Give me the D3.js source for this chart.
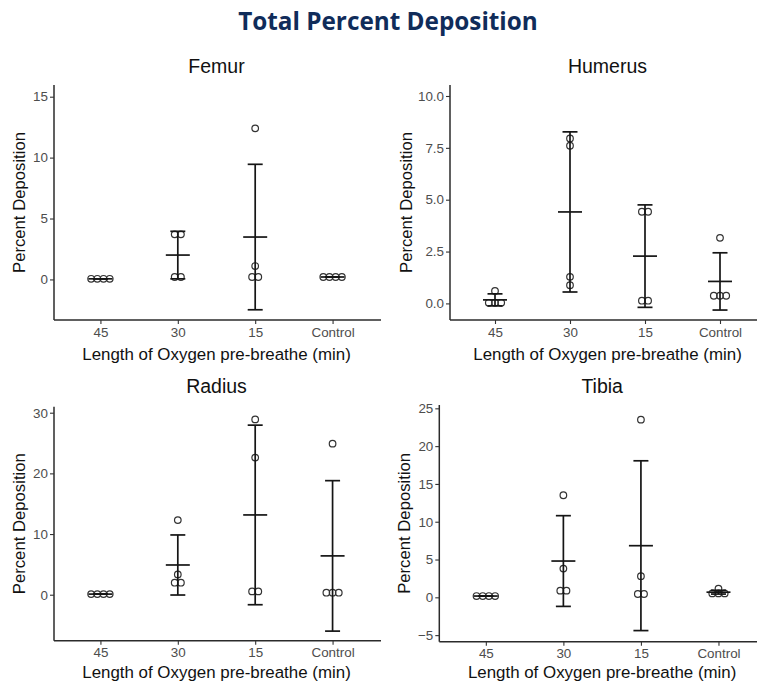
<!DOCTYPE html>
<html>
<head>
<meta charset="utf-8">
<script src="https://cdn.jsdelivr.net/npm/d3@7/dist/d3.min.js"></script>
<style>
  html, body { margin: 0; padding: 0; background: #fff; }
  svg { display: block; }
</style>
</head>
<body>
<svg id="chart" width="757" height="686"></svg>
<script>
// ---------------- DATA ----------------
const chartTitle = "Total Percent Deposition";
const categories = ["45", "30", "15", "Control"];
const panelNames = ["Femur", "Humerus", "Radius", "Tibia"];
const xAxisTitle = "Length of Oxygen pre-breathe (min)";
const yAxisTitle = "Percent Deposition";

// individual observations per category (45, 30, 15, Control)
const femurPoints   = [[0.05, 0.05, 0.05, 0.05], [3.7, 3.7, 0.2, 0.2], [12.4, 1.1, 0.2, 0.2], [0.2, 0.2, 0.2, 0.2]];
const humerusPoints = [[0.6, 0.03, 0.03, 0.03], [7.95, 7.6, 1.28, 0.88], [4.42, 4.42, 0.13, 0.13], [3.16, 0.37, 0.37, 0.37]];
const radiusPoints  = [[0.1, 0.1, 0.1, 0.1], [12.3, 3.35, 1.98, 1.98], [28.9, 22.6, 0.55, 0.55], [24.9, 0.33, 0.33, 0.33]];
const tibiaPoints   = [[0.17, 0.17, 0.17, 0.17], [13.5, 3.8, 0.88, 0.88], [23.5, 2.8, 0.44, 0.44], [1.15, 0.52, 0.52, 0.52]];

// mean and standard deviation per category
const femurMeans   = [0.05, 2.0, 3.48, 0.2];
const femurSD      = [0.0, 1.95, 5.97, 0.0];
const humerusMeans = [0.17, 4.41, 2.28, 1.06];
const humerusSD    = [0.29, 3.86, 2.47, 1.38];
const radiusMeans  = [0.1, 4.9, 13.15, 6.4];
const radiusSD     = [0.0, 4.95, 14.8, 12.4];
const tibiaMeans   = [0.17, 4.8, 6.83, 0.68];
const tibiaSD      = [0.0, 6.0, 11.23, 0.25];

// y-axis extents and tick labels
const femurDomain   = [-3.33, 15.96];
const humerusDomain = [-0.8, 10.53];
const radiusDomain  = [-7.58, 30.99];
const tibiaDomain   = [-5.87, 25.44];
const femurTicks   = [0, 5, 10, 15];
const humerusTicks = [0, 2.5, 5, 7.5, 10];
const radiusTicks  = [0, 10, 20, 30];
const tibiaTicks   = [-5, 0, 5, 10, 15, 20, 25];
const femurFormat = "d", humerusFormat = ".1f", radiusFormat = "d", tibiaFormat = "d";

// ---------------- LAYOUT ----------------
const panels = [
  { name: panelNames[0], points: femurPoints, means: femurMeans, sd: femurSD, domain: femurDomain, ticks: femurTicks, fmt: femurFormat,
    x0: 54, x1: 379, y0: 85, y1: 320, titleY: 73, yTitleX: 25, xTitleY: 360 },
  { name: panelNames[1], points: humerusPoints, means: humerusMeans, sd: humerusSD, domain: humerusDomain, ticks: humerusTicks, fmt: humerusFormat,
    x0: 450, x1: 765, y0: 85, y1: 320, titleY: 73, yTitleX: 411.5, xTitleY: 360 },
  { name: panelNames[2], points: radiusPoints, means: radiusMeans, sd: radiusSD, domain: radiusDomain, ticks: radiusTicks, fmt: radiusFormat,
    x0: 54, x1: 379, y0: 406.7, y1: 640.7, titleY: 393, yTitleX: 25, xTitleY: 678 },
  { name: panelNames[3], points: tibiaPoints, means: tibiaMeans, sd: tibiaSD, domain: tibiaDomain, ticks: tibiaTicks, fmt: tibiaFormat,
    x0: 439.3, x1: 765, y0: 405, y1: 641.7, titleY: 393, yTitleX: 410, xTitleY: 678 }
];

const FONT = "Liberation Sans, Arial, Helvetica, sans-serif";
const svg = d3.select("#chart");

svg.append("text")
  .attr("x", 388).attr("y", 30)
  .attr("text-anchor", "middle")
  .attr("font-family", "'Open Sans', sans-serif")
  .attr("font-weight", 700)
  .attr("font-size", 24.3)
  .attr("fill", "#102c5a")
  .text(chartTitle);

const dotR = 3.3, dotStep = 6.2, meanHalf = 12, capHalf = 7.5;

panels.forEach(p => {
  const x = d3.scalePoint().domain(categories).range([p.x0, p.x1]).padding(0.6);
  const y = d3.scaleLinear().domain(p.domain).range([p.y1, p.y0]);
  const g = svg.append("g");

  // axes
  const yAxis = d3.axisLeft(y).tickValues(p.ticks).tickFormat(d3.format(p.fmt)).tickSize(4).tickPadding(2).tickSizeOuter(0);
  const gy = g.append("g").attr("transform", `translate(${p.x0},0)`).call(yAxis);
  const xAxis = d3.axisBottom(x).tickSize(4).tickPadding(3).tickSizeOuter(0);
  const gx = g.append("g").attr("transform", `translate(0,${p.y1})`).call(xAxis);
  [gx, gy].forEach(a => {
    a.select(".domain").attr("stroke", "#2b2b2b").attr("stroke-width", 1.5);
    a.selectAll(".tick line").attr("stroke", "#333").attr("stroke-width", 1.1);
    a.selectAll(".tick text").attr("fill", "#4d4d4d").attr("font-family", FONT).attr("font-size", 13.4);
  });
  gy.select(".domain").attr("d", `M0,${p.y0}V${p.y1}`);
  gx.select(".domain").attr("d", `M${p.x0},0H${p.x1 + 2}`);

  // points: equal values stacked side by side, centred on category
  categories.forEach((c, i) => {
    const vals = p.points[i];
    const groups = d3.groups(vals, v => v);
    groups.forEach(([v, arr]) => {
      arr.forEach((_, k) => {
        const off = (k - (arr.length - 1) / 2) * dotStep;
        g.append("circle")
          .attr("cx", x(c) + off).attr("cy", y(v)).attr("r", dotR)
          .attr("fill", "none").attr("stroke", "#333").attr("stroke-width", 1.2);
      });
    });
  });

  // mean +/- SD error bars
  categories.forEach((c, i) => {
    const cx = x(c), m = p.means[i], s = p.sd[i];
    const lineAttrs = sel => sel.attr("stroke", "#151515").attr("stroke-width", 1.7).attr("fill", "none");
    g.append("line").attr("x1", cx).attr("x2", cx).attr("y1", y(m - s)).attr("y2", y(m + s)).call(lineAttrs);
    g.append("line").attr("x1", cx - capHalf).attr("x2", cx + capHalf).attr("y1", y(m + s)).attr("y2", y(m + s)).call(lineAttrs);
    g.append("line").attr("x1", cx - capHalf).attr("x2", cx + capHalf).attr("y1", y(m - s)).attr("y2", y(m - s)).call(lineAttrs);
    g.append("line").attr("x1", cx - meanHalf).attr("x2", cx + meanHalf).attr("y1", y(m)).attr("y2", y(m)).call(lineAttrs);
  });

  const cxp = (p.x0 + p.x1) / 2;
  // panel title
  g.append("text").attr("x", cxp).attr("y", p.titleY).attr("text-anchor", "middle")
    .attr("font-family", FONT).attr("font-size", 19.5).attr("fill", "#111").text(p.name);
  // x title
  g.append("text").attr("x", cxp).attr("y", p.xTitleY).attr("text-anchor", "middle")
    .attr("font-family", FONT).attr("font-size", 16.9).attr("fill", "#111").text(xAxisTitle);
  // y title
  const cyp = (p.y0 + p.y1) / 2;
  g.append("text").attr("transform", `translate(${p.yTitleX},${cyp}) rotate(-90)`).attr("text-anchor", "middle")
    .attr("font-family", FONT).attr("font-size", 16.7).attr("fill", "#111").text(yAxisTitle);
});
</script>
</body>
</html>
